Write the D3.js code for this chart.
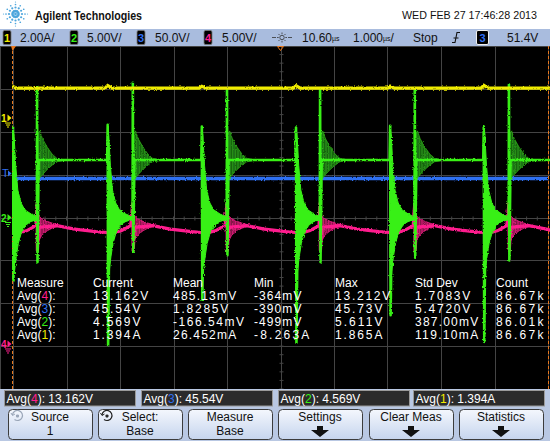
<!DOCTYPE html>
<html>
<head>
<meta charset="utf-8">
<script src="https://cdn.jsdelivr.net/npm/d3@7"></script>
<style>
body { margin:0; background:#fff; }
svg { display:block; font-family:"Liberation Sans", Arial, sans-serif; }
</style>
</head>
<body>
<svg id="scope" width="550" height="441"></svg>
<script>
// Channel setup (number, scale text, colour, div offset of ground, units per div)
var chNames = ["1", "2", "3", "4"];
var chScaleText = ["2.00A/", "5.00V/", "50.0V/", "5.00V/"];
var chColors = ["#f0ec00", "#38f016", "#2f6ff2", "#ff1f8e"];
var chOffset = [2.32, 0, 0, -2.95];
var chPerDiv = [2, 5, 50, 5];

// Switching edges (µs from left graticule edge)
var edgeA = [0, 1.77, 3.53, 5.29, 7.05, 8.80];     // ch2 falling edge
var edgeB = [0.45, 2.24, 4.00, 5.74, 7.51, 9.27];  // ch2 rising edge

// Ch1 current (A)
var ch1Level = 1.394;
var ch1Bumps = [1.47, 1.52, 1.48, 1.51, 1.49, 1.53];
// Ch3 (V)
var ch3Level = 45.6;
// Ch2 (V)
var ch2High = 6.7, ch2Low = -0.1;
var ch2PeakA = [10.6, 10.8, 10.6, 10.5, 10.7, 10.6];
var ch2MinA = [-7.3, -14.9, -9.6, -14.6, -11.4, -14.5];
var ch2PeakB = [15.2, 15.7, 14.9, 14.9, 15.1, 15.5];
var ch2MinB = [-5.2, -4.0, -4.4, -5.2, -4.7, -5.0];
var ch2EnvHi = [[0, 10.4], [0.02, 9.6], [0.05, 6.1], [0.09, 3.2], [0.15, 1.7], [0.22, 0.9], [0.34, 0.4], [0.45, 0.1]];
var ch2EnvLo = [[0, -7.0], [0.03, -6.2], [0.06, -4.6], [0.1, -3.0], [0.16, -1.7], [0.24, -0.9], [0.34, -0.4], [0.45, -0.3]];
var ch2RingHi = [[0.01, 9.6], [0.05, 10.1], [0.1, 9.2], [0.19, 8.2], [0.28, 7.4], [0.37, 6.9], [0.47, 6.8]];
var ch2RingLo = [[0.01, 4.2], [0.05, 4.6], [0.1, 5.0], [0.19, 5.6], [0.28, 6.1], [0.37, 6.5], [0.47, 6.6]];
// Ch4 (V)
var ch4Spike = [16.4, 10.9];
var ch4RingHi = [[0, 15.2], [0.04, 14.9], [0.09, 14.6], [0.19, 14.3], [0.28, 14.1], [0.37, 13.95]];
var ch4RingLo = [[0, 11.6], [0.04, 12.1], [0.09, 12.7], [0.19, 13.2], [0.28, 13.5], [0.37, 13.7]];
var ch4AfterB = [[0.37, 13.8], [0.7, 13.4], [1.1, 13.1]];
var ch4AfterA = [[0.02, 12.8], [0.25, 13.2], [0.43, 13.8]];

// Measurement statistics
var measHead = ["Measure", "Current", "Mean", "Min", "Max", "Std Dev", "Count"];
var measCh = ["4", "3", "2", "1"];
var measRows = [
  ["13.162V", "485.13mV", "-364mV", "13.212V", "1.7083V", "86.67k"],
  ["45.54V", "1.8285V", "-390mV", "45.73V", "5.4720V", "86.67k"],
  ["4.569V", "-166.54mV", "-499mV", "5.611V", "387.00mV", "86.01k"],
  ["1.394A", "26.452mA", "-8.263A", "1.865A", "119.10mA", "86.67k"]
];
var readCh = ["4", "3", "2", "1"];
var readVals = ["13.162V", "45.54V", "4.569V", "1.394A"];
var keyTop = ["Source", "Select:", "Measure", "Settings", "Clear Meas", "Statistics"];
var keyBottom = ["1", "Base", "Base", "", "", ""];

var svg = d3.select("#scope");
var plotTop = 46, plotBot = 389;

var x = d3.scaleLinear().domain([0, 10]).range([13, 548]);
var ydiv = d3.scaleLinear().domain([-4, 4]).range([plotBot, plotTop]);
function yCh(c, v) { return ydiv(chOffset[c] + v / chPerDiv[c]); }
function colOf(n) { return chColors[+n - 1]; }

var defs = svg.append("defs");
defs.append("clipPath").attr("id", "plotClip").append("rect")
    .attr("x", 12).attr("y", plotTop).attr("width", 538).attr("height", plotBot - plotTop);
var fz = defs.append("filter").attr("id", "fuzz").attr("filterUnits", "userSpaceOnUse")
    .attr("x", 0).attr("y", 40).attr("width", 550).attr("height", 360);
fz.append("feTurbulence").attr("type", "fractalNoise").attr("baseFrequency", "0.9 0.6")
    .attr("numOctaves", 1).attr("seed", 4).attr("result", "n");
fz.append("feDisplacementMap").attr("in", "SourceGraphic").attr("in2", "n")
    .attr("scale", 3).attr("xChannelSelector", "R").attr("yChannelSelector", "G");
var pg = defs.append("pattern").attr("id", "ringG").attr("patternUnits", "userSpaceOnUse")
    .attr("width", 1.6).attr("height", 10);
pg.append("rect").attr("width", 1.6).attr("height", 10).attr("fill", "#175e10");
pg.append("rect").attr("width", 0.6).attr("height", 10).attr("fill", "#2fa818");
var pp = defs.append("pattern").attr("id", "ringP").attr("patternUnits", "userSpaceOnUse")
    .attr("width", 1.6).attr("height", 10);
pp.append("rect").attr("width", 1.6).attr("height", 10).attr("fill", "#7a1040");
pp.append("rect").attr("width", 0.7).attr("height", 10).attr("fill", "#e0207e");
var bg = defs.append("linearGradient").attr("id", "keyGrad").attr("x1", 0).attr("x2", 0).attr("y1", 0).attr("y2", 1);
bg.append("stop").attr("offset", "0%").attr("stop-color", "#f4f7fd");
bg.append("stop").attr("offset", "100%").attr("stop-color", "#c6d5ee");

// ---------- header ----------
svg.append("rect").attr("width", 550).attr("height", 29).attr("fill", "#fff");
var logo = svg.append("g").attr("transform", "translate(15.5,14)");
d3.range(12).forEach(function(k) {
  var a = k * Math.PI / 6;
  [[3, 1.3], [6.5, 1.1], [9.5, 0.85], [12, 0.6]].forEach(function(p, j) {
    if (k % 3 != 0 && j == 3) return;
    logo.append("circle").attr("cx", Math.cos(a) * p[0]).attr("cy", Math.sin(a) * p[0])
        .attr("r", p[1]).attr("fill", "#4ea6dd");
  });
});
logo.append("circle").attr("r", 1.4).attr("fill", "#4ea6dd");
svg.append("text").attr("x", 35).attr("y", 20).attr("font-size", 13).attr("font-weight", "bold")
    .attr("textLength", 107).attr("lengthAdjust", "spacingAndGlyphs").attr("fill", "#111")
    .text("Agilent Technologies");
svg.append("text").attr("x", 402).attr("y", 19).attr("font-size", 11.5)
    .attr("textLength", 135).attr("lengthAdjust", "spacingAndGlyphs").attr("fill", "#111")
    .text("WED FEB 27 17:46:28 2013");

// channel bar
svg.append("rect").attr("y", 29).attr("width", 550).attr("height", 17).attr("fill", "#a9bcde");
var boxX = [3, 70, 137, 204], txtX = [20, 87, 155, 222];
chNames.forEach(function(n, i) {
  svg.append("rect").attr("x", boxX[i]).attr("y", 30.5).attr("width", 8).attr("height", 14).attr("rx", 1.5)
      .attr("fill", "#000").attr("stroke", "#777").attr("stroke-width", 0.8);
  svg.append("text").attr("x", boxX[i] + 4).attr("y", 42).attr("text-anchor", "middle")
      .attr("font-size", 11).attr("font-weight", "bold").attr("fill", chColors[i]).text(n);
  svg.append("text").attr("x", txtX[i]).attr("y", 42).attr("font-size", 12).attr("fill", "#111").text(chScaleText[i]);
});
// delay icon
var sun = svg.append("g").attr("transform", "translate(282,37.5)").attr("stroke", "#333").attr("stroke-width", 0.8);
sun.append("circle").attr("r", 2.2).attr("fill", "none");
d3.range(8).forEach(function(k) {
  var a = k * Math.PI / 4;
  sun.append("line").attr("x1", Math.cos(a) * 3.3).attr("y1", Math.sin(a) * 3.3)
      .attr("x2", Math.cos(a) * 5).attr("y2", Math.sin(a) * 5);
});
sun.append("line").attr("x1", -10).attr("x2", -6).attr("y1", 0).attr("y2", 0);
sun.append("line").attr("x1", 6).attr("x2", 10).attr("y1", 0).attr("y2", 0);
var t1 = svg.append("text").attr("x", 302).attr("y", 42).attr("font-size", 12).attr("fill", "#111").text("10.60");
t1.append("tspan").attr("font-size", 7).attr("dy", -1).text("µs");
var t2 = svg.append("text").attr("x", 353).attr("y", 42).attr("font-size", 12).attr("fill", "#111").text("1.000");
t2.append("tspan").attr("font-size", 7).attr("dy", -1).text("µs");
t2.append("tspan").attr("dy", 1).text("/");
svg.append("text").attr("x", 413).attr("y", 42).attr("font-size", 12).attr("fill", "#111").text("Stop");
svg.append("path").attr("d", "M452,42.5 L455,42.5 L457,32.5 L460,32.5 M453.5,38 L458.5,38")
    .attr("fill", "none").attr("stroke", "#111").attr("stroke-width", 1.1);
svg.append("rect").attr("x", 476.5).attr("y", 30.5).attr("width", 12).attr("height", 14).attr("rx", 1.5)
    .attr("fill", "#000").attr("stroke", "#eee").attr("stroke-width", 1);
svg.append("text").attr("x", 482.5).attr("y", 42).attr("text-anchor", "middle").attr("font-size", 11)
    .attr("font-weight", "bold").attr("fill", chColors[2]).text("3");
svg.append("text").attr("x", 507).attr("y", 42).attr("font-size", 12).attr("fill", "#111").text("51.4V");

// ---------- graticule ----------
svg.append("rect").attr("y", plotTop).attr("width", 550).attr("height", plotBot - plotTop).attr("fill", "#000");
var grid = svg.append("g").attr("stroke", "#444").attr("stroke-width", 1);
d3.range(0, 11).forEach(function(t) {
  grid.append("line").attr("x1", Math.round(x(t)) + 0.5).attr("x2", Math.round(x(t)) + 0.5)
      .attr("y1", plotTop).attr("y2", plotBot);
});
d3.range(-4, 5).forEach(function(d) {
  grid.append("line").attr("x1", 0).attr("x2", 550)
      .attr("y1", Math.round(ydiv(d)) + 0.5).attr("y2", Math.round(ydiv(d)) + 0.5);
});
grid.append("line").attr("x1", 0.5).attr("x2", 0.5).attr("y1", plotTop).attr("y2", plotBot);
var cx0 = Math.round(x(5)) + 0.5, cy0 = Math.round(ydiv(0)) + 0.5;
d3.range(0, 50).forEach(function(k) {
  var tx = x(k / 5);
  grid.append("line").attr("x1", tx).attr("x2", tx).attr("y1", cy0 - 2).attr("y2", cy0 + 2);
});
d3.range(-20, 20).forEach(function(k) {
  var ty = ydiv(k / 5);
  grid.append("line").attr("x1", cx0 - 2).attr("x2", cx0 + 2).attr("y1", ty).attr("y2", ty);
});
[12.5, 548.5].forEach(function(px) {
  svg.append("line").attr("x1", px).attr("x2", px).attr("y1", plotTop).attr("y2", plotBot)
      .attr("stroke", "#e8781e").attr("stroke-width", 1).attr("stroke-dasharray", "3,2");
});
svg.append("path").attr("d", "M11,46 L16,46 L12.5,51 Z").attr("fill", "#e8781e");
svg.append("path").attr("d", "M277.5,46.5 L283.5,46.5 L280.5,50.5 Z").attr("fill", "none")
    .attr("stroke", "#e8781e").attr("stroke-width", 1);

// ---------- traces ----------
var line = function(c) {
  return d3.line().x(function(d) { return x(d[0]); }).y(function(d) { return yCh(c, d[1]); });
};
function band(c, t0, hi, lo) {
  var pts = hi.map(function(d) { return [t0 + d[0], d[1]]; })
    .concat(lo.slice().reverse().map(function(d) { return [t0 + d[0], d[1]]; }));
  return line(c)(pts) + "Z";
}
var traces = svg.append("g").attr("clip-path", "url(#plotClip)");
var tr = traces.append("g").attr("filter", "url(#fuzz)");

// ch3 blue
tr.append("path").attr("d", line(2)([[0, ch3Level], [10, ch3Level]]))
  .attr("stroke", chColors[2]).attr("stroke-width", 3.5).attr("fill", "none");

// ch4 pink
var p4 = [];
edgeA.forEach(function(a, i) {
  var b = edgeB[i], next = i + 1 < edgeA.length ? edgeA[i + 1] : 10.2;
  ch4AfterA.forEach(function(d) { p4.push([a + d[0], d[1]]); });
  p4.push([b, ch4Spike[0]]); p4.push([b + 0.006, ch4Spike[1]]); p4.push([b + 0.03, 13.6]);
  ch4AfterB.forEach(function(d) { if (b + d[0] < next) p4.push([b + d[0], d[1]]); });
  p4.push([next - 0.01, 13.0]);
});
edgeB.forEach(function(b) {
  tr.append("path").attr("d", band(3, b, ch4RingHi, ch4RingLo)).attr("fill", "url(#ringP)")
    .attr("stroke", chColors[3]).attr("stroke-width", 0.7);
});
tr.append("path").attr("d", line(3)(p4)).attr("stroke", chColors[3]).attr("stroke-width", 3.2)
  .attr("fill", "none").attr("stroke-linejoin", "round");

// ch2 green
var p2 = [];
edgeA.forEach(function(a, i) {
  var b = edgeB[i];
  if (i > 0) p2.push([a - 0.01, ch2High]);
  p2.push([a, ch2PeakA[i]]); p2.push([a + 0.008, ch2MinA[i]]); p2.push([a + 0.03, ch2Low - 1]);
  p2.push([a + 0.45, ch2Low]); p2.push([b - 0.005, ch2Low]);
  p2.push([b, ch2PeakB[i]]); p2.push([b + 0.008, ch2MinB[i]]); p2.push([b + 0.03, ch2High]);
  p2.push([b + 0.47, ch2High]);
});
p2.push([10.2, ch2High]);
edgeA.forEach(function(a) {
  tr.append("path").attr("d", band(1, a, ch2EnvHi, ch2EnvLo)).attr("fill", chColors[1])
    .attr("stroke", chColors[1]).attr("stroke-width", 1);
});
edgeB.forEach(function(b) {
  tr.append("path").attr("d", band(1, b, ch2RingHi, ch2RingLo)).attr("fill", "url(#ringG)")
    .attr("stroke", "#2fb515").attr("stroke-width", 0.7);
});
tr.append("path").attr("d", line(1)(p2)).attr("stroke", chColors[1]).attr("stroke-width", 2.6)
  .attr("fill", "none").attr("stroke-linejoin", "round");

// ch1 yellow
var p1 = [[0, ch1Level]];
edgeA.forEach(function(a, i) {
  if (a > 0.05) p1.push([a - 0.05, ch1Level]);
  p1.push([a, ch1Bumps[i]]); p1.push([a + 0.08, ch1Level]);
});
p1.push([10.2, ch1Level]);
tr.append("path").attr("d", line(0)(p1)).attr("stroke", chColors[0]).attr("stroke-width", 3.2).attr("fill", "none");

// ground / trigger markers on the left
[[0, 1, "1"], [1, 0, "2"], [3, 0, "4"]].forEach(function(m) {
  var c = m[0], gy = yCh(c, 0);
  svg.append("text").attr("x", 1).attr("y", gy + 4).attr("font-size", 10).attr("font-weight", "bold")
      .attr("fill", chColors[c]).text(m[2]);
  svg.append("path").attr("d", "M7.5," + (gy - 3.5) + " L11.5," + gy + " L7.5," + (gy + 3.5) + " Z").attr("fill", chColors[c]);
  svg.append("path").attr("d", "M5," + (gy + 5) + " L11," + (gy + 5) + " M6," + (gy + 7) + " L10," + (gy + 7) + " M7," + (gy + 9) + " L9," + (gy + 9))
      .attr("stroke", chColors[c]).attr("stroke-width", 1);
});
var trigY = yCh(2, 51.4);
svg.append("text").attr("x", 2).attr("y", trigY + 4).attr("font-size", 11).attr("fill", chColors[2]).text("T");
svg.append("path").attr("d", "M8," + (trigY - 3) + " L11.5," + trigY + " L8," + (trigY + 3) + " Z").attr("fill", chColors[2]);

// ---------- measurement table ----------
var colX = [17, 93, 173, 254, 335, 415, 496];
var table = svg.append("g").attr("font-size", 12).attr("fill", "#fff");
measHead.forEach(function(h, j) {
  table.append("text").attr("x", colX[j]).attr("y", 287).text(h);
});
measRows.forEach(function(row, i) {
  var yy = 300 + i * 13;
  var lab = table.append("text").attr("x", 17).attr("y", yy).text("Avg(");
  lab.append("tspan").attr("fill", colOf(measCh[i])).text(measCh[i]);
  lab.append("tspan").text("):");
  row.forEach(function(v, j) {
    table.append("text").attr("x", colX[j + 1]).attr("y", yy)
      .attr("textLength", v.length * 7.9).attr("lengthAdjust", "spacing").text(v);
  });
});

// ---------- bottom readouts and softkeys ----------
svg.append("rect").attr("y", plotBot).attr("width", 550).attr("height", 441 - plotBot).attr("fill", "#b9c8e3");
var readX = [4.5, 141.5, 278.5, 413.5];
readCh.forEach(function(n, i) {
  svg.append("rect").attr("x", readX[i]).attr("y", 390.5).attr("width", 131).attr("height", 15.5)
      .attr("fill", "#2b2b2b").attr("stroke", "#9a9a9a").attr("stroke-width", 1);
  var t = svg.append("text").attr("x", readX[i] + 2).attr("y", 402.5).attr("font-size", 12).attr("fill", "#fff").text("Avg(");
  t.append("tspan").attr("fill", colOf(n)).text(n);
  t.append("tspan").text("): " + readVals[i]);
});
var keyX = [8, 98, 188, 278, 369, 459];
keyTop.forEach(function(k, i) {
  var kx = keyX[i], kc = kx + 42;
  svg.append("rect").attr("x", kx + 0.5).attr("y", 409.5).attr("width", 84).attr("height", 30).attr("rx", 4)
      .attr("fill", "url(#keyGrad)").attr("stroke", "#3c3c3c").attr("stroke-width", 1);
  svg.append("text").attr("x", kc).attr("y", 421).attr("text-anchor", "middle").attr("font-size", 12)
      .attr("fill", "#111").text(k);
  if (keyBottom[i]) {
    svg.append("text").attr("x", kc).attr("y", 434.5).attr("text-anchor", "middle").attr("font-size", 12)
        .attr("fill", "#111").text(keyBottom[i]);
  } else {
    svg.append("path").attr("d", "M" + (kc - 3) + ",426 h6 v4 h6 l-9,7 l-9,-7 h6 Z").attr("fill", "#111");
  }
});
// rotary knob icons in Source / Select keys
[[17.5, "#9aa6b8"], [107, "#222"]].forEach(function(ic) {
  var g = svg.append("g").attr("transform", "translate(" + ic[0] + ",416)")
      .attr("stroke", ic[1]).attr("fill", "none").attr("stroke-width", 1.2);
  g.append("path").attr("d", "M-5,-1 A5,5 0 1,1 -3,3.5");
  g.append("path").attr("d", "M-6.5,-3 L-5,-0.5 L-2.5,-2").attr("stroke-width", 1);
  g.append("circle").attr("r", 1).attr("fill", ic[1]);
});
</script>
</body>
</html>
